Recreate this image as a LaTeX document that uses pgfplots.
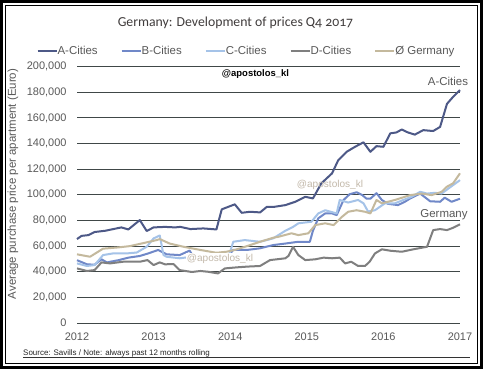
\documentclass[border=0pt]{standalone}
\usepackage{fontspec}
\setmainfont{Liberation Sans}
\newfontfamily\titlefont{Carlito}[Numbers=OldStyle]
\usepackage{pgfplots}
\pgfplotsset{compat=1.18}
\definecolor{acol}{RGB}{77,89,135}
\definecolor{bcol}{RGB}{112,136,200}
\definecolor{ccol}{RGB}{165,195,232}
\definecolor{dcol}{RGB}{127,127,127}
\definecolor{gcol}{RGB}{196,185,157}
\definecolor{gridc}{RGB}{64,72,72}
\definecolor{tickgray}{RGB}{89,89,89}
\definecolor{titlegray}{RGB}{64,60,60}
\definecolor{wm}{RGB}{195,185,170}
\begin{document}
\begin{tikzpicture}
\useasboundingbox (0,0) rectangle (483bp,-369bp);
\fill[white] (0,0) rectangle (483bp,-369bp);
\begin{axis}[
  at={(77bp,-323bp)}, anchor=south west,
  scale only axis, width=383bp, height=256.3bp,
  xmin=0, xmax=5, ymin=0, ymax=200000,
  axis line style={draw=none},
  major tick length=0pt,
  ymajorgrids, grid style={gridc, line width=1bp},
  ytick={0,20000,...,200000},
  xtick={0,1,2,3,4,5},
  xticklabels={2012,2013,2014,2015,2016,2017},
  scaled y ticks=false,
  /pgf/number format/assume math mode=true,
  /pgf/number format/1000 sep={,},
  /pgf/number format/fixed,
  tick label style={font=\fontsize{11}{13}\selectfont, text=tickgray},
  yticklabel style={anchor=east, inner sep=0pt, xshift=-10.3bp},
  xticklabel style={anchor=north, inner sep=0pt, yshift=-10bp},
  every axis plot/.append style={line width=2bp, line join=round, mark=none},
  legend columns=5,
  legend style={at={(axis description cs:0.44,1.061)}, anchor=center,
    draw=none, fill=none, inner sep=0pt, outer sep=0pt,
    font=\fontsize{11.5}{13}\selectfont, text=tickgray,
    nodes={inner sep=0pt},
    /tikz/every even column/.append style={column sep=23bp}},
  legend image code/.code={\draw[#1, line width=2bp] (0bp,0bp) -- (19bp,0bp);},
  clip=false,
]
\addplot[acol] coordinates {
(0.00,65500)(0.06,68000)(0.15,68600)(0.23,71000)(0.37,72000)(0.45,73000)(0.58,74600)(0.67,73000)(0.82,80300)(0.91,71800)
(1.00,74600)(1.15,75000)(1.28,74600)(1.35,75000)(1.48,73300)(1.65,73800)(1.82,73000)(1.89,88700)
(2.06,92600)(2.15,86000)(2.26,86800)(2.39,86300)(2.48,90700)(2.58,90700)(2.72,92000)(2.85,94600)(2.98,98500)
(3.08,97200)(3.19,109000)(3.33,116800)(3.41,127000)(3.52,133600)(3.63,137500)(3.74,141000)(3.83,133600)(3.91,138000)
(4.00,137500)(4.09,148000)(4.17,148700)(4.24,151000)(4.32,148700)(4.41,147000)(4.52,150500)(4.65,149800)(4.74,153000)(4.83,171000)(4.91,176500)(5.00,181700)};
\addlegendentry{A-Cities}
\addplot[bcol] coordinates {
(0.00,49000)(0.13,45800)(0.23,45500)(0.32,49700)(0.39,47300)(0.54,49000)(0.67,51000)(0.82,52300)(0.93,54300)
(1.06,57000)(1.17,53600)(1.34,53000)(1.47,56500)(1.52,51500)(1.65,51000)(1.82,50500)(1.95,51000)
(2.04,57000)(2.22,57000)(2.39,58300)(2.56,60800)(2.72,62000)(2.89,63400)
(3.04,63400)(3.08,72000)(3.15,81700)(3.24,85500)(3.33,85500)(3.39,84200)(3.48,96000)(3.56,100500)(3.65,102000)(3.72,100000)(3.78,97000)(3.83,97000)(3.91,101300)(3.98,96000)
(4.06,93000)(4.19,92000)(4.28,94600)(4.35,97200)(4.48,101000)(4.61,95000)(4.74,94600)(4.80,97800)(4.89,94600)(5.00,97000)};
\addlegendentry{B-Cities}
\addplot[ccol] coordinates {
(0.00,46500)(0.13,44500)(0.23,45200)(0.34,53000)(0.47,54300)(0.65,54300)(0.78,55000)(0.91,59500)
(1.00,66000)(1.08,68300)(1.13,53000)(1.17,51700)(1.34,50500)(1.50,51700)(1.56,49000)(1.70,49000)(1.85,50000)(1.98,52000)
(2.04,63400)(2.19,64700)(2.39,63400)(2.56,66000)(2.72,72000)(2.82,75000)(2.89,77800)
(3.06,79000)(3.15,85500)(3.24,88000)(3.39,85500)(3.43,96000)(3.54,94000)(3.67,96000)(3.74,93400)(3.80,87000)(3.89,88000)
(4.02,93400)(4.15,93400)(4.26,96000)(4.37,98500)(4.48,102400)(4.57,101000)(4.67,101600)(4.76,101000)(4.85,105000)(5.00,111500)};
\addlegendentry{C-Cities}
\addplot[dcol] coordinates {
(0.00,42600)(0.13,40600)(0.23,41300)(0.32,47300)(0.43,46500)(0.60,47800)(0.82,47800)(0.92,49100)
(1.00,45200)(1.08,47300)(1.15,45800)(1.26,46000)(1.34,41300)(1.50,39800)(1.61,40600)(1.71,40000)(1.84,38700)(1.93,42600)
(2.08,43400)(2.22,44000)(2.39,44500)(2.52,49100)(2.65,50000)(2.72,50500)(2.76,52300)(2.82,59500)(2.89,53000)(2.98,49100)
(3.11,49700)(3.22,51000)(3.33,50500)(3.43,51000)(3.50,46500)(3.58,47800)(3.67,44500)(3.76,44500)(3.82,47800)(3.89,54300)(3.98,57500)
(4.09,56400)(4.24,55600)(4.39,57500)(4.57,59500)(4.65,72500)(4.74,73300)(4.83,72500)(4.91,74300)(5.00,77000)};
\addlegendentry{D-Cities}
\addplot[gcol] coordinates {
(0.00,53600)(0.17,51700)(0.34,58000)(0.54,59000)(0.69,60000)(0.84,62000)
(1.04,64700)(1.08,65500)(1.21,62000)(1.39,59500)(1.61,57000)(1.82,54800)(1.95,55600)
(2.06,57000)(2.22,60000)(2.39,63400)(2.56,66500)(2.63,67300)(2.80,70000)(2.89,68600)
(3.02,70000)(3.11,76400)(3.24,77800)(3.35,76400)(3.46,82900)(3.54,86800)(3.65,88000)(3.76,86800)(3.83,85500)(3.91,96000)(3.98,93400)
(4.15,96000)(4.35,99800)(4.50,101000)(4.63,99800)(4.76,102400)(4.83,106400)(4.91,109000)(5.00,116800)};
\addlegendentry{\O{} Germany}
\end{axis}
\node[font=\titlefont\fontsize{13.8}{16}\selectfont, text=titlegray, anchor=base] at (235.5bp,-26bp) {Germany: Development of prices Q4 2017};
\node[rotate=90, font=\fontsize{11.5}{13}\selectfont, text=tickgray] at (13bp,-184bp) {Average purchase price per apartment (Euro)};
\node[font=\bfseries\fontsize{9.5}{11}\selectfont] at (255.5bp,-74bp) {@apostolos\_kl};
\node[font=\fontsize{10.1}{12}\selectfont, text=wm] at (330bp,-185bp) {@apostolos\_kl};
\node[font=\fontsize{10.1}{12}\selectfont, text=wm, fill=white, inner sep=1bp] at (220bp,-259bp) {@apostolos\_kl};
\node[font=\fontsize{11.5}{13}\selectfont, text=tickgray] at (448bp,-81bp) {A-Cities};
\node[font=\fontsize{11.5}{13}\selectfont, text=tickgray] at (444bp,-215bp) {Germany};
\node[anchor=base west, inner sep=0pt, font=\fontsize{8}{9}\selectfont, text=black!85] at (23bp,-355.5bp) {Source: Savills / Note: always past 12 months rolling};
\draw[line width=0.7bp, black!80] (23bp,-357.5bp) -- (470bp,-357.5bp);
\draw[line width=3bp] (1.5bp,-1.5bp) rectangle (481.5bp,-367.5bp);
\draw[line width=1bp] (5.5bp,-5.5bp) rectangle (477.5bp,-363.5bp);
\end{tikzpicture}
\end{document}
